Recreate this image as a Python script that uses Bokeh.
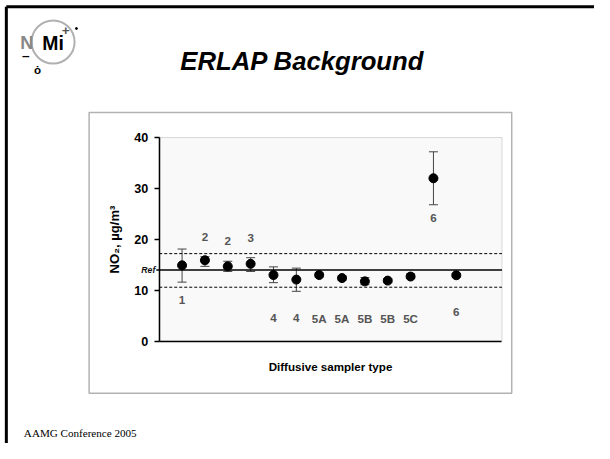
from bokeh.plotting import figure
from bokeh.models import (ColumnDataSource, Whisker, Label, BoxAnnotation,
                          FixedTicker, Range1d, TeeHead)
from bokeh.core.properties import value
from bokeh.embed import file_html
from bokeh.resources import INLINE

# ---------------- data ----------------
sampler_labels = ["1", "2", "2", "3", "4", "4", "5A", "5A", "5B", "5B", "5C", "6", "6"]
no2_mean = [14.9, 15.9, 14.7, 15.2, 13.0, 12.1, 13.0, 12.4, 11.75, 11.9, 12.7, 32.0, 12.95]
no2_upper = [18.1, 16.6, 15.7, 16.4, 14.6, 14.35, 13.4, 12.8, 12.5, 12.3, 13.2, 37.2, 13.3]
no2_lower = [11.6, 14.7, 13.7, 13.7, 11.5, 9.8, 12.6, 12.0, 11.1, 11.5, 12.3, 26.8, 12.6]
label_y = [8.0, 20.5, 19.7, 20.3, 4.5, 4.5, 4.5, 4.5, 4.5, 4.5, 4.5, 24.1, 5.7]
sampler_pos = list(range(1, len(sampler_labels) + 1))

ref_value = 14.0
ref_upper = 17.2
ref_lower = 10.6
y_ticks = [0, 10, 20, 30, 40]
x_lim = (0, 15)
y_lim = (0, 40)

FONT = "Liberation Sans"

# ---------------- layout: slide designed at 610x459, drawn on 594x443 ----------------
RW, RH = 610, 459
W, H = 594, 443
SX, SY = W / RW, H / RH
F = (SX + SY) / 2

def fs(px):
    return f"{px * F:.1f}px"

def cx(X):
    return X * SX

def cy(Y):
    return Y * SY

PL, PR, PT, PB = cx(163), cx(515), cy(142), cy(353)   # plot area (canvas px)

kx = (PR - PL) / (x_lim[1] - x_lim[0])
ky = (PB - PT) / (y_lim[1] - y_lim[0])
x_range = Range1d(x_lim[0] - PL / kx, x_lim[0] + (W - PL) / kx)
y_range = Range1d(y_lim[0] - (H - PB) / ky, y_lim[0] + PB / ky)

def dx(X):
    return x_lim[0] + (cx(X) - PL) / kx

def dy(Y):
    return y_lim[0] + (PB - cy(Y)) / ky

def sx(X):
    return cx(X)

def sy(Y):
    return H - cy(Y)

src = ColumnDataSource(dict(x=sampler_pos, y=no2_mean, upper=no2_upper,
                            lower=no2_lower, ly=label_y, lab=sampler_labels))

p = figure(width=W, height=H, output_backend="svg", toolbar_location=None,
           x_range=x_range, y_range=y_range, min_border=0)
p.background_fill_color = "white"
p.border_fill_color = "white"
p.outline_line_color = None
p.xgrid.visible = False
p.ygrid.visible = False

# plot area background + top/right outline
p.add_layout(BoxAnnotation(left=x_lim[0], right=x_lim[1], bottom=y_lim[0], top=y_lim[1],
                           fill_color="#f9f9f9", fill_alpha=1,
                           line_color="#808080", line_width=1, level="underlay"))

# y axis
ya = p.yaxis[0]
ya.fixed_location = x_lim[0]
ya.bounds = y_lim
ya.ticker = FixedTicker(ticks=y_ticks)
ya.minor_tick_line_color = None
ya.major_tick_in = 0
ya.major_tick_out = 5
ya.major_tick_line_color = "black"
ya.major_tick_line_width = 1.5
ya.axis_line_color = "black"
ya.axis_line_width = 1.5
ya.major_label_text_font = FONT
ya.major_label_text_font_style = "bold"
ya.major_label_text_font_size = fs(13)
ya.major_label_text_color = "black"
ya.major_label_standoff = 6
ya.axis_label = "NO\u2082, \u00b5g/m\u00b3"
ya.axis_label_text_font = FONT
ya.axis_label_text_font_style = "bold"
ya.axis_label_text_font_size = fs(13.5)
ya.axis_label_text_color = "black"
ya.axis_label_standoff = 9

# x axis
xa = p.xaxis[0]
xa.fixed_location = y_lim[0]
xa.bounds = x_lim
xa.ticker = FixedTicker(ticks=[])
xa.minor_tick_line_color = None
xa.major_tick_line_color = None
xa.axis_line_color = "black"
xa.axis_line_width = 1.5
xa.axis_label = "Diffusive sampler type"
xa.axis_label_text_font = FONT
xa.axis_label_text_font_style = "bold"
xa.axis_label_text_font_size = fs(12)
xa.axis_label_text_color = "black"
xa.axis_label_standoff = 18

# reference lines
p.segment(x0=[dx(160)], x1=[x_lim[1]], y0=[ref_value], y1=[ref_value],
          line_color="black", line_width=1.5)
p.segment(x0=[x_lim[0], x_lim[0]], x1=[x_lim[1], x_lim[1]],
          y0=[ref_upper, ref_lower], y1=[ref_upper, ref_lower],
          line_color="black", line_width=1, line_dash="3 2")

# error bars and points
wc = "#444444"
p.add_layout(Whisker(source=src, base="x", upper="upper", lower="lower",
                     dimension="height", line_color=wc, line_width=1,
                     upper_head=TeeHead(size=9, line_color=wc, line_width=1),
                     lower_head=TeeHead(size=9, line_color=wc, line_width=1)))
p.scatter("x", "y", source=src, size=9, color="black")

p.text("x", "ly", text="lab", source=src, text_align="center", text_baseline="middle",
       text_font=value(FONT), text_font_style="bold", text_font_size=fs(12),
       text_color="#555555")

p.add_layout(Label(x=dx(159), y=ref_value, text="Ref",
                   text_align="right", text_baseline="middle", text_font=FONT,
                   text_font_style="bold italic", text_font_size=fs(9),
                   text_color="#111111"))

# ---------------- slide decorations ----------------
# chart box
p.add_layout(BoxAnnotation(left=sx(91), right=sx(525), top=sy(116), bottom=sy(407),
                           left_units="screen", right_units="screen",
                           top_units="screen", bottom_units="screen",
                           fill_alpha=0, line_color="black", line_width=1.5,
                           level="underlay"))
# slide border (top and left edges)
p.segment(x0=[dx(6), dx(6)], x1=[dx(RW + 5), dx(6)],
          y0=[dy(6.5), dy(6.5)], y1=[dy(6.5), dy(RH + 5)],
          line_color="black", line_width=3)

# title
p.add_layout(Label(x=sx(310), y=sy(63), x_units="screen", y_units="screen",
                   text="ERLAP Background", text_align="center", text_baseline="middle",
                   text_font=FONT, text_font_style="bold italic", text_font_size=fs(26.5),
                   text_color="black"))
# footer
p.add_layout(Label(x=sx(24), y=sy(448), x_units="screen", y_units="screen",
                   text="AAMG Conference 2005", text_align="left", text_baseline="middle",
                   text_font="Liberation Serif", text_font_size=fs(11.5),
                   text_color="black"))

# logo
p.scatter(x=[dx(54)], y=[dy(43)], size=43, marker="circle", fill_color=None,
          line_color="#b0b0b0", line_width=2)
p.scatter(x=[dx(78)], y=[dy(29)], size=2, marker="circle", color="black")
p.add_layout(Label(x=sx(27), y=sy(44), x_units="screen", y_units="screen", text="N",
                   text_align="center", text_baseline="middle", text_font=FONT,
                   text_font_style="bold", text_font_size=fs(19), text_color="#888888"))
p.add_layout(Label(x=sx(54), y=sy(44), x_units="screen", y_units="screen", text="Mi",
                   text_align="center", text_baseline="middle", text_font=FONT,
                   text_font_style="bold", text_font_size=fs(20), text_color="black"))
p.add_layout(Label(x=sx(67), y=sy(31), x_units="screen", y_units="screen", text="+",
                   text_align="center", text_baseline="middle", text_font=FONT,
                   text_font_style="bold", text_font_size=fs(14), text_color="#555555"))
p.add_layout(Label(x=sx(26), y=sy(57), x_units="screen", y_units="screen", text="\u2013",
                   text_align="center", text_baseline="middle", text_font=FONT,
                   text_font_style="bold", text_font_size=fs(14), text_color="black"))
p.add_layout(Label(x=sx(38), y=sy(71), x_units="screen", y_units="screen", text="\u022f",
                   text_align="center", text_baseline="middle", text_font=FONT,
                   text_font_style="bold", text_font_size=fs(12), text_color="black"))

open("out.html", "w").write(file_html(p, INLINE))
